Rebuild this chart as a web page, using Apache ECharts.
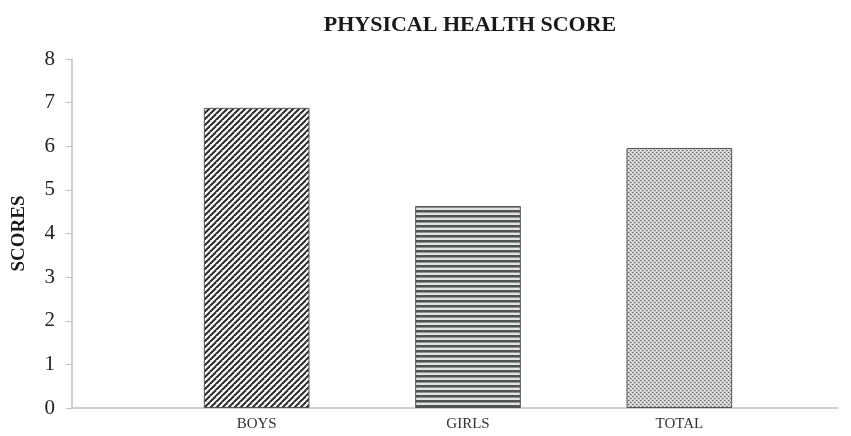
<!DOCTYPE html>
<html>
<head>
<meta charset="utf-8">
<script src="https://cdn.jsdelivr.net/npm/echarts@6/dist/echarts.min.js"></script>
<style>
  html, body { margin: 0; padding: 0; background: #fff; }
  #chart { width: 851px; height: 436px; }
</style>
</head>
<body>
<div id="chart"></div>
<script>
var categories = ['BOYS', 'GIRLS', 'TOTAL'];
var scores = [6.88, 4.63, 5.96];
var yTicks = [0, 1, 2, 3, 4, 5, 6, 7, 8];

// pattern tiles for the bars
function makeTile(w, h, draw) {
  var c = document.createElement('canvas');
  c.width = w; c.height = h;
  var ctx = c.getContext('2d');
  ctx.fillStyle = '#fff';
  ctx.fillRect(0, 0, w, h);
  draw(ctx);
  return c;
}
var diagTile = makeTile(6, 6, function (ctx) {
  ctx.strokeStyle = '#2a2a2a';
  ctx.lineWidth = 2;
  for (var k = -6; k <= 12; k += 6) {
    ctx.beginPath();
    ctx.moveTo(k - 6, 12);
    ctx.lineTo(k + 6, 0);
    ctx.stroke();
  }
});
var horizTile = makeTile(4, 5, function (ctx) {
  ctx.fillStyle = '#e2e2e2';
  ctx.fillRect(0, 0, 4, 5);
  ctx.fillStyle = '#4f5555';
  ctx.fillRect(0, 0, 4, 2);
  ctx.fillStyle = '#8d9393';
  ctx.fillRect(0, 2, 4, 1);
});
var dotTile = makeTile(4, 4, function (ctx) {
  ctx.fillStyle = '#d0d0d0';
  ctx.fillRect(0, 0, 4, 4);
  ctx.fillStyle = '#6a6a6a';
  ctx.fillRect(0, 0, 1, 1);
  ctx.fillRect(2, 2, 1, 1);
  ctx.fillStyle = '#999';
  ctx.fillRect(1, 0, 1, 1);
  ctx.fillRect(3, 2, 1, 1);
  ctx.fillStyle = '#eee';
  ctx.fillRect(2, 0, 1, 1);
  ctx.fillRect(0, 2, 1, 1);
});
var tiles = [diagTile, horizTile, dotTile];

var chart = echarts.init(document.getElementById('chart'));
var option = {
  animation: false,
  title: {
    text: 'PHYSICAL HEALTH SCORE',
    left: 465,
    textAlign: 'center',
    top: 9,
    textStyle: { fontFamily: 'Liberation Serif', fontWeight: 'bold', fontSize: 22, color: '#1a1a1a' }
  },
  grid: [
    { left: 72, right: 13, top: 59, bottom: 28 },
    { left: 151, width: 634, top: 59, bottom: 28 }
  ],
  xAxis: [
    {
      gridIndex: 0, type: 'category', data: [''],
      axisLine: { lineStyle: { color: '#c0c0c0', width: 1.5 } },
      axisTick: { show: false }, axisLabel: { show: false }
    },
    {
      gridIndex: 1, type: 'category', data: categories,
      axisLine: { show: false }, axisTick: { show: false },
      axisLabel: { fontFamily: 'Liberation Serif', fontSize: 15, color: '#333', margin: 9 }
    }
  ],
  yAxis: [
    {
      gridIndex: 0, type: 'value', min: 0, max: 8, interval: 1,
      name: 'SCORES', nameLocation: 'middle', nameGap: 43, nameRotate: 90,
      nameTextStyle: { fontFamily: 'Liberation Serif', fontWeight: 'bold', fontSize: 19, color: '#1a1a1a' },
      axisLine: { show: true, lineStyle: { color: '#c0c0c0', width: 1.5 } },
      axisTick: { show: true, length: 6, lineStyle: { color: '#c0c0c0' } },
      splitLine: { show: false },
      axisLabel: {
        fontFamily: 'Liberation Serif', fontSize: 21, color: '#222', margin: 17,
        formatter: function (v) { return yTicks.indexOf(v) >= 0 ? String(v) : ''; }
      }
    },
    {
      gridIndex: 1, type: 'value', min: 0, max: 8, show: false
    }
  ],
  series: [{
    type: 'bar',
    xAxisIndex: 1, yAxisIndex: 1,
    barWidth: '50%',
    data: scores.map(function (v, i) {
      return {
        value: v,
        itemStyle: {
          color: { image: tiles[i], repeat: 'repeat' },
          borderColor: '#555', borderWidth: 1
        }
      };
    })
  }]
};
chart.setOption(option);
</script>
</body>
</html>
